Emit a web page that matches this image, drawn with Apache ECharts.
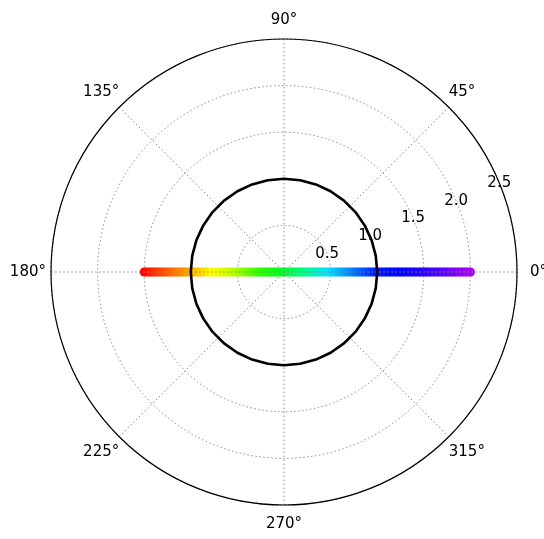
<!DOCTYPE html>
<html><head><meta charset="utf-8">
<script src="https://cdn.jsdelivr.net/npm/echarts@6/dist/echarts.min.js"></script>
<style>html,body{margin:0;padding:0;background:#fff}#c{width:544px;height:539px}</style>
</head><body><div id="c"></div>
<script>
// Signed positions of the coloured points along the 0°/180° line (negative = 180° side)
const xValues = [
  -1.500, -1.475, -1.450, -1.425, -1.400, -1.375, -1.350, -1.325, -1.300, -1.275,
  -1.250, -1.225, -1.200, -1.175, -1.150, -1.125, -1.100, -1.075, -1.050, -1.025,
  -1.000, -0.975, -0.950, -0.925, -0.900, -0.875, -0.850, -0.825, -0.800, -0.775,
  -0.750, -0.725, -0.700, -0.675, -0.650, -0.625, -0.600, -0.575, -0.550, -0.525,
  -0.500, -0.475, -0.450, -0.425, -0.400, -0.375, -0.350, -0.325, -0.300, -0.275,
  -0.250, -0.225, -0.200, -0.175, -0.150, -0.125, -0.100, -0.075, -0.050, -0.025,
   0.000,  0.025,  0.050,  0.075,  0.100,  0.125,  0.150,  0.175,  0.200,  0.225,
   0.250,  0.275,  0.300,  0.325,  0.350,  0.375,  0.400,  0.425,  0.450,  0.475,
   0.500,  0.525,  0.550,  0.575,  0.600,  0.625,  0.650,  0.675,  0.700,  0.725,
   0.750,  0.775,  0.800,  0.825,  0.850,  0.875,  0.900,  0.925,  0.950,  0.975,
   1.000,  1.025,  1.050,  1.075,  1.100,  1.125,  1.150,  1.175,  1.200,  1.225,
   1.250,  1.275,  1.300,  1.325,  1.350,  1.375,  1.400,  1.425,  1.450,  1.475,
   1.500,  1.525,  1.550,  1.575,  1.600,  1.625,  1.650,  1.675,  1.700,  1.725,
   1.750,  1.775,  1.800,  1.825,  1.850,  1.875,  1.900,  1.925,  1.950,  1.975,
   2.000
];
// colour stops evenly spread from -1.5 to 2.0
const rainbowColors = [
  '#ff0000', '#ff5500', '#ffa500', '#ffff00', '#b0ff00', '#30ff00', '#00ff20',
  '#00ff90', '#00e0ff', '#0080ff', '#0020ff', '#0000ff', '#2800ff', '#6000ff', '#a800f0'
];
const colorMin = -1.5;
const colorMax = 2.0;
// thick reference circle r = 1
const circleRadius = 1;
const circleAngles = [0,10,20,30,40,50,60,70,80,90,100,110,120,130,140,150,160,170,180,
  190,200,210,220,230,240,250,260,270,280,290,300,310,320,330,340,350,360];
// axes
const radiusMax = 2.5;
const radiusStep = 0.5;
const angleStep = 45;
const radiusLabelAngle = 22.5;

const font = 'DejaVu Sans';
const fs = 15;
const dotted = { color: '#888', width: 1, type: [1.5, 2.5] };

function lab(pad) { return { fontFamily: font, fontSize: fs, color: '#000', padding: pad }; }
const angleRich = {
  a0:   lab([0, 0, 0, 13]),
  a45:  lab([0, 0, 8, 0]),
  a90:  lab([0, 0, 11, 0]),
  a135: lab([0, 0, 8, 0]),
  a180: lab([0, 5, 0, 0]),
  a225: lab([8, 0, 0, 0]),
  a270: lab([12, 0, 0, 0]),
  a315: lab([8, 0, 0, 0])
};

const chart = echarts.init(document.getElementById('c'), null, { renderer: 'canvas' });
chart.setOption({
  animation: false,
  backgroundColor: '#fff',
  polar: [
    { center: [284, 272], radius: 233 },
    { center: [284, 272], radius: 233 }
  ],
  angleAxis: [
    {
      polarIndex: 0, type: 'value', min: 0, max: 360, interval: angleStep,
      startAngle: 0, clockwise: false,
      axisLine: { show: true, lineStyle: { color: '#000', width: 1.2 } },
      axisTick: { show: false },
      axisLabel: { show: true, margin: 0, fontFamily: font, fontSize: fs, color: '#000',
                   formatter: v => '{a' + v + '|' + v + '°}', rich: angleRich },
      splitLine: { show: true, lineStyle: dotted },
      z: 3
    },
    {
      polarIndex: 1, type: 'value', min: 0, max: 360, startAngle: radiusLabelAngle, clockwise: false,
      show: false
    }
  ],
  radiusAxis: [
    {
      polarIndex: 0, type: 'value', min: 0, max: radiusMax, interval: radiusStep,
      axisLine: { show: false }, axisTick: { show: false }, axisLabel: { show: false },
      splitLine: { show: true, lineStyle: dotted }
    },
    {
      polarIndex: 1, type: 'value', min: 0, max: radiusMax, interval: radiusStep,
      axisLine: { show: false }, axisTick: { show: false }, splitLine: { show: false },
      axisLabel: { show: true, showMinLabel: false, showMaxLabel: true,
                   formatter: v => v.toFixed(1), fontFamily: font, fontSize: fs, color: '#000',
                   margin: 0, align: 'center', verticalAlign: 'middle' },
      z: 4
    }
  ],
  visualMap: {
    show: false, type: 'continuous', seriesIndex: 0, dimension: 2,
    min: colorMin, max: colorMax, inRange: { color: rainbowColors }
  },
  series: [
    {
      type: 'scatter', coordinateSystem: 'polar', polarIndex: 0,
      symbol: 'circle', symbolSize: 9,
      itemStyle: { opacity: 1 },
      data: xValues.map(x => [Math.abs(x), x < 0 ? 180 : 0, x]),
      z: 2
    },
    {
      type: 'line', coordinateSystem: 'polar', polarIndex: 0,
      symbol: 'none', silent: true,
      lineStyle: { color: '#000', width: 2.6 },
      data: circleAngles.map(a => [circleRadius, a]),
      z: 5
    }
  ]
});
</script>
</body></html>
